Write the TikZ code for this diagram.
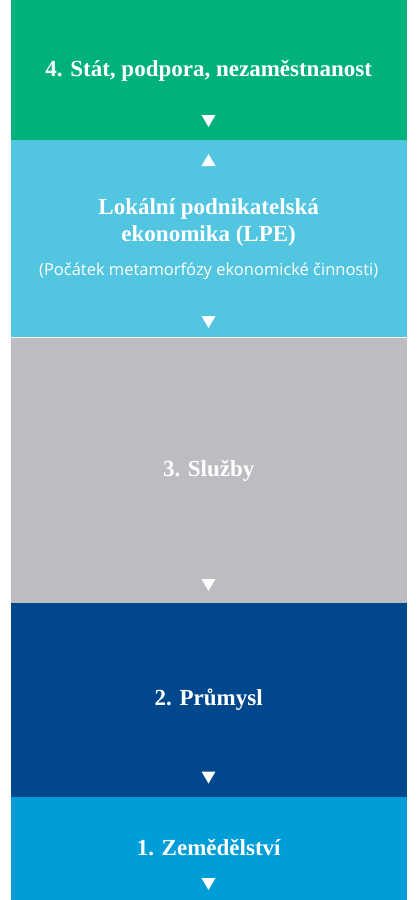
\documentclass[tikz,border=0pt]{standalone}
\usepackage{fontspec}
\setmainfont{Liberation Serif}
\newfontfamily\notefont{Open Sans}

\definecolor{statgreen}{RGB}{0,177,123}
\definecolor{lpecyan}{RGB}{82,197,224}
\definecolor{sluzgray}{RGB}{188,189,193}
\definecolor{prumblue}{RGB}{0,71,140}
\definecolor{zemblue}{RGB}{0,157,217}

\begin{document}
\begin{tikzpicture}[x=1pt, y=-1pt,
    band/.style={minimum width=396pt, inner sep=0pt, align=center,
                 text=white, font=\bfseries\fontsize{23}{27}\selectfont}]
    \useasboundingbox (0,0) rectangle (417,900);

    % the five stages, from top to bottom
    \node[band, fill=statgreen, minimum height=141pt] (stat) at (208.7,70.5)
        {4. Stát, podpora, nezaměstnanost};
    \node[band, fill=lpecyan, minimum height=197pt] (lpe) at (208.7,238.5)
        {Lokální podnikatelská\\ekonomika (LPE)\\[7pt]
         {\notefont\mdseries\fontsize{16.5}{20}\selectfont (Počátek metamorfózy ekonomické činnosti)}};
    \node[band, fill=sluzgray, minimum height=265pt] (sluzby) at (208.7,470.5)
        {3. Služby};
    \node[band, fill=prumblue, minimum height=194pt] (prumysl) at (208.7,700)
        {2. Průmysl};
    \node[band, fill=zemblue, minimum height=103pt] (zemed) at (208.7,848.5)
        {\raisebox{2pt}{1. Zemědělství}};

    % white triangles
    \foreach \y in {121,322,585,777.5,884}
        \fill[white] (201.5,\y-6) -- (215.5,\y-6) -- (208.5,\y+6) -- cycle;
    \fill[white] (201.5,166) -- (215.5,166) -- (208.5,154) -- cycle;
\end{tikzpicture}
\end{document}
